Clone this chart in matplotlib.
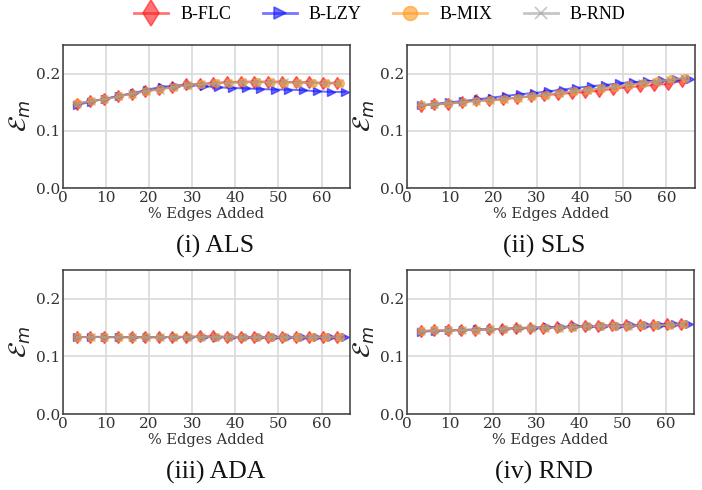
import matplotlib
matplotlib.use("Agg")
import matplotlib.pyplot as plt
from matplotlib.lines import Line2D

series_names = ["B-FLC", "B-LZY", "B-MIX", "B-RND"]
panel_titles = ["(i) ALS", "(ii) SLS", "(iii) ADA", "(iv) RND"]
xticks = [0, 10, 20, 30, 40, 50, 60]
yticks = [0.0, 0.1, 0.2]

x_flc = [3.2, 6.3, 9.5, 12.7, 15.9, 19.0, 22.2, 25.4, 28.6, 31.7, 34.9, 38.1, 41.3, 44.4, 47.6, 50.8, 54.0, 57.1, 60.3, 63.5]
x_lzy = [3.3, 6.5, 9.8, 13.1, 16.4, 19.6, 22.9, 26.2, 29.4, 32.7, 36.0, 39.2, 42.5, 45.8, 49.1, 52.3, 55.6, 58.9, 62.1, 65.4]
x_mix = [3.2, 6.4, 9.6, 12.9, 16.1, 19.3, 22.5, 25.7, 28.9, 32.1, 35.4, 38.6, 41.8, 45.0, 48.2, 51.4, 54.6, 57.9, 61.1, 64.3]
x_rnd = [3.2, 6.4, 9.6, 12.8, 16.0, 19.2, 22.4, 25.6, 28.8, 32.0, 35.2, 38.4, 41.6, 44.8, 48.0, 51.2, 54.4, 57.6, 60.8, 64.0]

# ALS
als_flc = [0.147, 0.152, 0.155, 0.161, 0.165, 0.169, 0.173, 0.177, 0.181, 0.182, 0.184, 0.185, 0.186, 0.186, 0.186, 0.186, 0.185, 0.185, 0.184, 0.184]
als_lzy = [0.145, 0.151, 0.156, 0.161, 0.166, 0.172, 0.177, 0.179, 0.180, 0.178, 0.176, 0.175, 0.174, 0.173, 0.172, 0.172, 0.171, 0.169, 0.168, 0.168]
als_mix = [0.148, 0.152, 0.155, 0.160, 0.165, 0.169, 0.173, 0.177, 0.180, 0.181, 0.183, 0.184, 0.185, 0.185, 0.185, 0.184, 0.184, 0.183, 0.183, 0.183]
als_rnd = [0.147, 0.152, 0.155, 0.160, 0.165, 0.169, 0.172, 0.176, 0.180, 0.181, 0.183, 0.184, 0.185, 0.185, 0.185, 0.185, 0.184, 0.184, 0.183, 0.183]

# SLS
sls_flc = [0.144, 0.146, 0.147, 0.150, 0.153, 0.153, 0.155, 0.158, 0.160, 0.162, 0.164, 0.166, 0.168, 0.170, 0.173, 0.176, 0.178, 0.180, 0.182, 0.187]
sls_lzy = [0.145, 0.147, 0.150, 0.152, 0.155, 0.158, 0.161, 0.164, 0.166, 0.169, 0.172, 0.175, 0.178, 0.180, 0.183, 0.185, 0.187, 0.188, 0.190, 0.191]
sls_mix = [0.145, 0.146, 0.148, 0.150, 0.152, 0.154, 0.155, 0.158, 0.160, 0.163, 0.166, 0.169, 0.172, 0.174, 0.177, 0.180, 0.184, 0.187, 0.190, 0.192]
sls_rnd = [0.145, 0.146, 0.148, 0.150, 0.152, 0.154, 0.156, 0.158, 0.161, 0.163, 0.166, 0.169, 0.171, 0.174, 0.177, 0.180, 0.183, 0.186, 0.189, 0.192]

# ADA
ada_flc = [0.133, 0.134, 0.134, 0.133, 0.133, 0.133, 0.133, 0.134, 0.134, 0.135, 0.135, 0.134, 0.133, 0.133, 0.133, 0.134, 0.133, 0.134, 0.133, 0.133]
ada_lzy = [0.133, 0.133, 0.133, 0.133, 0.133, 0.133, 0.133, 0.133, 0.133, 0.133, 0.133, 0.133, 0.133, 0.133, 0.133, 0.133, 0.133, 0.133, 0.133, 0.133]
ada_mix = [0.133, 0.134, 0.133, 0.133, 0.133, 0.133, 0.133, 0.134, 0.134, 0.134, 0.134, 0.134, 0.133, 0.133, 0.133, 0.133, 0.133, 0.133, 0.133, 0.133]
ada_rnd = [0.133, 0.133, 0.133, 0.133, 0.133, 0.133, 0.133, 0.133, 0.133, 0.133, 0.133, 0.133, 0.133, 0.133, 0.133, 0.133, 0.133, 0.133, 0.133, 0.133]

# RND
rnd_flc = [0.144, 0.145, 0.145, 0.146, 0.146, 0.147, 0.148, 0.149, 0.150, 0.150, 0.151, 0.152, 0.152, 0.153, 0.154, 0.154, 0.154, 0.155, 0.156, 0.157]
rnd_lzy = [0.143, 0.144, 0.145, 0.146, 0.147, 0.147, 0.148, 0.149, 0.150, 0.151, 0.151, 0.152, 0.152, 0.153, 0.153, 0.154, 0.154, 0.155, 0.156, 0.156]
rnd_mix = [0.144, 0.145, 0.145, 0.146, 0.146, 0.147, 0.148, 0.149, 0.150, 0.150, 0.150, 0.151, 0.152, 0.153, 0.153, 0.153, 0.154, 0.154, 0.155, 0.156]
rnd_rnd = [0.144, 0.145, 0.145, 0.146, 0.146, 0.147, 0.148, 0.149, 0.150, 0.150, 0.150, 0.151, 0.152, 0.153, 0.153, 0.153, 0.154, 0.154, 0.155, 0.156]

xs = [x_flc, x_lzy, x_mix, x_rnd]
panels = [
    [als_flc, als_lzy, als_mix, als_rnd],
    [sls_flc, sls_lzy, sls_mix, sls_rnd],
    [ada_flc, ada_lzy, ada_mix, ada_rnd],
    [rnd_flc, rnd_lzy, rnd_mix, rnd_rnd],
]

colors = ["#ff1a1a", "#1a1aff", "#ff9a1f", "#a0a0a0"]
markers = ["d", ">", "o", "x"]
msizes = [6.5, 5.5, 5.5, 5.5]
legend_msizes = [13.5, 9, 10, 9]

fig = plt.figure(figsize=(7.02, 4.90), dpi=100)

W, H = 702.0, 490.0
boxes = [
    (63, 45, 350, 188),
    (406.7, 45, 695, 188),
    (63, 270, 350, 414),
    (406.7, 270, 694, 414),
]
caption_pos = [(215.5, 246), (544, 246), (216, 472), (544, 472)]

for i, (l, t, r, b) in enumerate(boxes):
    ax = fig.add_axes([l / W, 1 - b / H, (r - l) / W, (b - t) / H])
    ax.set_facecolor("white")
    ax.grid(True, color="#d9d9d9", linewidth=1.2)
    ax.set_axisbelow(True)
    for s in ax.spines.values():
        s.set_color("#3a3a3a")
        s.set_linewidth(1.1)
    for j in range(4):
        ax.plot(xs[j], panels[i][j], color=colors[j], marker=markers[j],
                markersize=msizes[j], linewidth=1.4, alpha=0.65,
                markeredgewidth=1.0)
    ax.set_xlim(0, 66.6)
    ax.set_ylim(0, 0.25)
    ax.set_xticks(xticks)
    ax.set_yticks(yticks)
    ax.set_yticklabels(["0.0", "0.1", "0.2"])
    ax.tick_params(length=0, pad=2, labelsize=11, labelcolor="#333333")
    for lab in ax.get_xticklabels() + ax.get_yticklabels():
        lab.set_family("DejaVu Serif")
    ax.set_xlabel("% Edges Added", family="DejaVu Serif", fontsize=10.5,
                  color="#333333", labelpad=1.5)
    ax.set_ylabel(r"$\mathcal{E}_m$", fontsize=18, color="#222222", labelpad=2)
    cx, cy = caption_pos[i]
    fig.text(cx / W, 1 - cy / H, panel_titles[i], family="Liberation Serif",
             fontsize=18.5, ha="center", va="center", color="#111111")

handles = [Line2D([], [], color=colors[j], marker=markers[j], markersize=legend_msizes[j],
                  linewidth=2, alpha=0.6, markeredgewidth=1.2) for j in range(4)]
fig.legend(handles, series_names, loc="center left", bbox_to_anchor=(134 / W, 1 - 14.5 / H),
           ncol=4, frameon=False, prop={"family": "Liberation Serif", "size": 13},
           handlelength=1.9, columnspacing=1.75, handletextpad=0.65,
           borderpad=0, borderaxespad=0)

fig.savefig("out.png", dpi=100)
